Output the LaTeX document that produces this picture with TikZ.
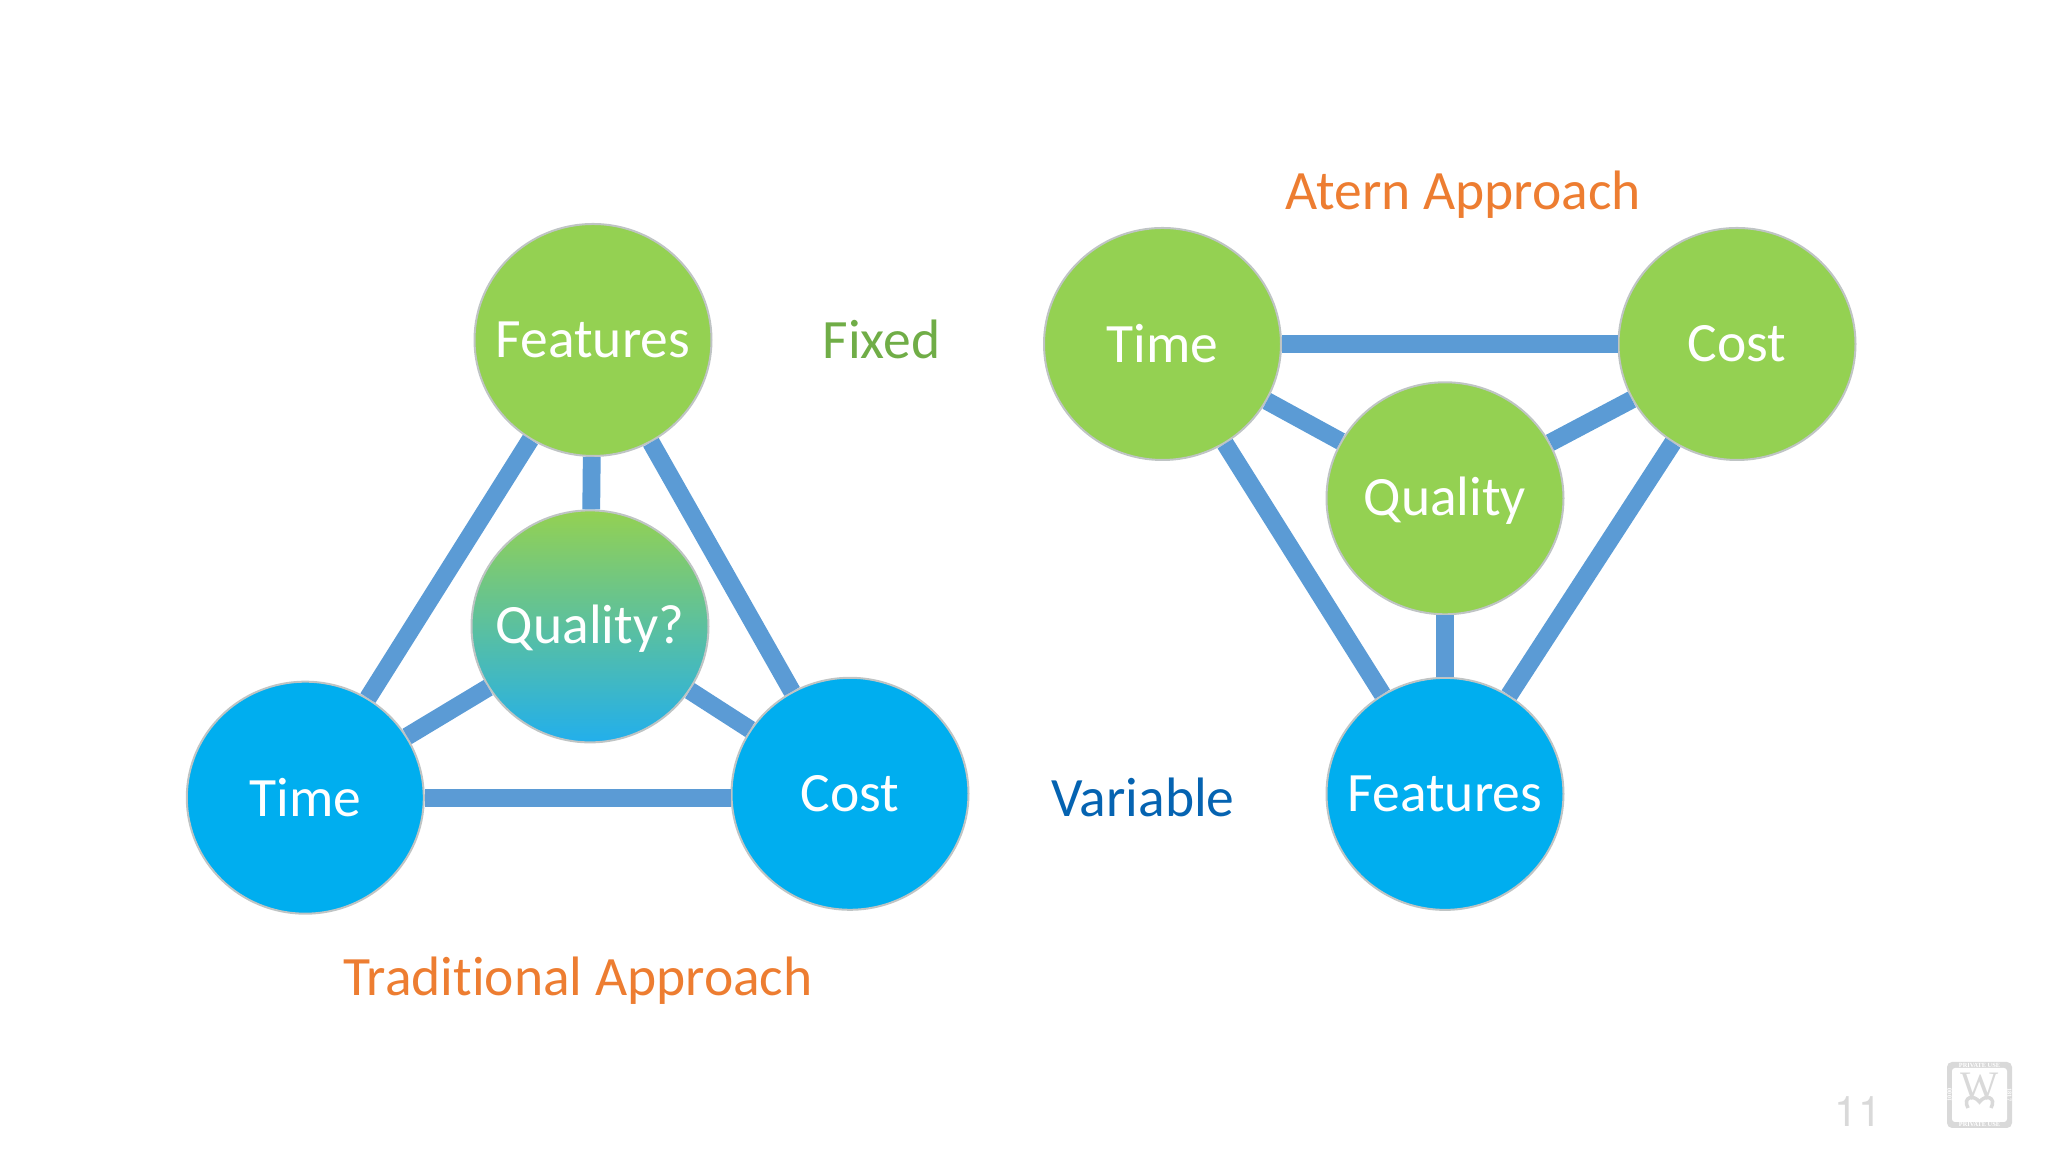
\documentclass[tikz,border=0pt]{standalone}
\usepackage{fontspec}
\setmainfont{Carlito}[Ligatures=NoCommon]
\newfontfamily\numfont{TeX Gyre Heros}
\newfontfamily\logofont{Liberation Serif}
\usetikzlibrary{positioning,shapes.geometric}
\definecolor{leafgreen}{HTML}{94D152}
\definecolor{skyblue}{HTML}{00AEEF}
\definecolor{fadeblue}{HTML}{22AFEC}
\definecolor{fademid}{HTML}{74C4B8}
\definecolor{linkblue}{HTML}{5B9BD5}
\definecolor{rimgray}{HTML}{BFC4C4}
\definecolor{titleorange}{HTML}{ED7D31}
\definecolor{fixedgreen}{HTML}{70AD47}
\definecolor{varblue}{HTML}{0563B1}
\definecolor{markgray}{HTML}{D9D9D9}

\begin{document}
\begin{tikzpicture}
    [on grid,
    % STYLES
    % The ball style is used to draw the project variables
    ball/.style={ellipse, draw=rimgray, line width=0.02cm, minimum width=2.37cm, minimum height=2.32cm, inner xsep=-0.3cm, inner ysep=0pt, text=white, font=\fontsize{15.8}{18}\selectfont},
    fixedball/.style={ball, fill=leafgreen},
    varball/.style={ball, fill=skyblue},
    % The link style is used to draw the bars between the balls
    link/.style={draw=linkblue, line width=0.178cm},
    title/.style={text=titleorange, font=\fontsize{15.8}{18}\selectfont},
    kind/.style={font=\fontsize{15.8}{18}\selectfont},
    stamp/.style={text=white, font=\logofont\bfseries\fontsize{1.8}{2}\selectfont, inner sep=0pt}]

    \useasboundingbox (0,0) rectangle (20.48,11.52);

    % Draw traditional triangle
    \node [fixedball] (lfeatures) at (5.93,8.12) {Features};
    \node [ball, text height=0.43cm, top color=leafgreen, middle color=fademid, bottom color=fadeblue, below left=2.864cm and 0.03cm of lfeatures] (lquality) {Quality?};
    \node [varball, below left=4.577cm and 2.877cm of lfeatures] (ltime) {Time};
    \node [varball, below right=4.538cm and 2.57cm of lfeatures] (lcost) {Cost};

    % Draw atern triangle
    \node [fixedball, right=5.695cm of lfeatures, yshift=-0.04cm] (rtime) {Time};
    \node [fixedball, right=5.745cm of rtime] (rcost) {Cost};
    \node [fixedball, text height=0.43cm, below right=1.543cm and 2.825cm of rtime] (rquality) {Quality};
    \node [varball, below right=4.499cm and 2.825cm of rtime] (rfeatures) {Features};

    % Draw labels
    \node [kind, text=fixedgreen, right=2.884cm of lfeatures, yshift=0.01cm] (fixed) {Fixed};
    \node [kind, text=varblue, left=3.02cm of rfeatures, yshift=-0.04cm] (variable) {Variable};
    \node [title, above right=1.49cm and 3.008cm of rtime] (aterntitle) {Atern Approach};
    \node [title, below left=6.41cm and 0.15cm of lfeatures] (tradtitle) {Traditional Approach};

    \path[link]
    (lfeatures) edge (lquality)
    (lfeatures) edge (ltime)
    (lfeatures) edge (lcost)
    (lquality) edge (ltime)
    (lquality) edge (lcost)
    (ltime.east) edge (ltime.east -| lcost.west)
    (rtime) edge (rcost)
    (rtime) edge (rquality)
    (rtime) edge (rfeatures)
    (rcost) edge (rquality)
    (rcost) edge (rfeatures)
    (rquality) edge (rfeatures);

    % Draw page number and stamp
    \node [text=markgray, font=\numfont\fontsize{12}{14}\selectfont] (pagenum) at (18.58,0.40) {11};
    \node [rectangle, rounded corners=0.05cm, fill=markgray, minimum width=0.65cm, minimum height=0.66cm, inner sep=0pt] (stampbox) at (19.795,0.57) {};
    \node [rectangle, rounded corners=0.03cm, fill=white, minimum width=0.55cm, minimum height=0.54cm, inner sep=0pt] (stampface) at (stampbox) {};
    \node [text=markgray, font=\logofont\fontsize{11.5}{12}\selectfont, inner sep=0pt] (stampw) at (19.795,0.65) {W};
    \draw [markgray, line width=0.035cm] (19.68,0.44) .. controls (19.62,0.55) and (19.74,0.58) .. (19.795,0.5) .. controls (19.85,0.58) and (19.97,0.55) .. (19.91,0.44);
    \node [stamp, above=0.295cm of stampbox] (stamptop) {PRIVATE USE};
    \node [stamp, below=0.295cm of stampbox] (stampbottom) {PRIVATE USE};
    \node [stamp, rotate=90, left=0.3cm of stampbox] (stampleft) {1000};
    \node [stamp, rotate=-90, right=0.3cm of stampbox] (stampright) {1817};
\end{tikzpicture}
\end{document}
